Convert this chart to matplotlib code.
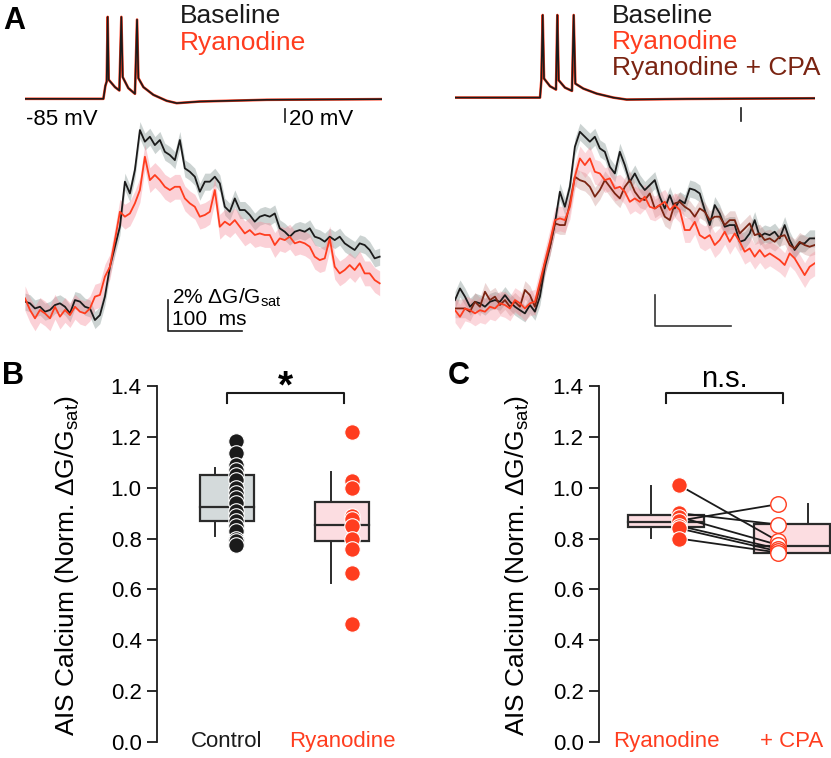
import numpy as np
import matplotlib
matplotlib.use('Agg')
import matplotlib.pyplot as plt
from matplotlib.patches import Rectangle

plt.rcParams['font.family'] = ['Liberation Sans', 'DejaVu Sans']
plt.rcParams['mathtext.default'] = 'regular'

W, H = 831, 758

# ---- data --------------------------------------------------------------
dt = 6.75  # ms per sample of the calcium traces

# voltage traces (ms, mV)
v_left_t = [0, 105.9, 108.6, 110.4, 111.7, 113.1, 121.6, 127.5, 130.2, 132.0, 139.6,
            148.6, 151.4, 153.2, 160.0, 173.4, 191.4, 205.0, 236.5, 326.6, 482.0]
v_left_mv = [-85, -85, -65.2, -58.6, 39.5, -56, -67.2, -72.3, 39.5, -52, -68.7,
             -77.4, 35.4, -53.5, -67.2, -78.9, -88, -91.6, -89.1, -86.5, -85.5]
v_right_t = [0, 114.9, 116.7, 118.5, 120.3, 128.4, 136.5, 138.3, 140.1, 148.6, 158.1,
             160.4, 162.6, 173.4, 191.4, 214.0, 232.0, 313.0, 485.6]
v_right_mv = [-85, -85, -58.6, 40.5, -56, -67.7, -72.8, 40.5, -58.6, -69.8, -74.8,
              40.5, -63.7, -71.3, -78.9, -85, -88, -87, -86]

# AIS calcium (% dG/Gsat), left panel
ca_left_base = [0.22, 0.11, -0.22, -0.11, -0.43, -0.32, 0, 0.11, -0.11, -0.54, 0.32, 0.22,
                -0.11, -0.22, -0.97, -0.65, 0.54, 2.47, 3.76, 5.05, 7.96, 7.20, 8.71, 11.29,
                10.54, 10.86, 10.32, 10.65, 9.89, 9.68, 9.35, 10.65, 8.82, 8.60, 8.28, 7.31,
                7.96, 7.96, 8.28, 7.85, 6.34, 6.02, 6.88, 6.13, 6.13, 5.81, 5.38, 5.70,
                5.81, 5.70, 5.91, 4.95, 4.73, 4.41, 4.73, 4.84, 4.73, 4.95, 4.41, 4.30,
                4.09, 4.41, 4.19, 4.41, 3.98, 3.76, 3.55, 3.98, 3.87, 3.55, 3.01, 3.12]
ca_left_rya = [0.43, -0.32, -0.86, -0.32, -0.54, -0.86, -0.11, -0.75, -0.32, -0.65, -0.11, -0.43,
               -0.54, -0.22, 0.54, 0.65, 1.83, 2.47, 4.19, 6.02, 5.70, 5.91, 6.56, 7.42,
               9.57, 8.06, 8.39, 8.06, 7.63, 7.42, 7.63, 7.63, 6.88, 6.56, 6.34, 5.70,
               5.81, 6.02, 7.42, 5.05, 5.38, 5.16, 5.48, 5.05, 4.62, 4.84, 4.52, 4.62,
               4.52, 4.52, 3.87, 4.30, 4.19, 4.41, 3.98, 4.09, 3.98, 3.76, 3.12, 2.90,
               3.01, 4.30, 2.47, 2.04, 2.26, 2.58, 2.26, 2.69, 2.04, 2.04, 1.61, 1.40]

# AIS calcium (% dG/Gsat), right panel
ca_right_base = [0.43, 1.18, 0.65, 0, 0.32, 0.22, 0, 0.32, 0.43, 0.32, 0.75, 0.32, 0,
                 -0.22, -0.43, 0.11, -0.32, 0.65, 2.58, 3.87, 5.38, 7.42, 6.45, 7.74,
                 10.32, 11.29, 10.97, 10.65, 10.97, 10.22, 10.00, 9.03, 8.60, 10.00, 9.14,
                 8.06, 8.60, 7.96, 7.53, 7.85, 8.17, 7.10, 6.34, 7.20, 6.34, 6.88, 6.67,
                 7.63, 7.53, 7.31, 6.24, 5.27, 6.56, 6.02, 5.16, 5.27, 5.27, 4.19, 4.30,
                 4.73, 5.59, 4.52, 4.73, 4.62, 4.84, 4.41, 5.27, 4.30, 3.66, 4.09, 4.09,
                 4.41, 4.41]
ca_right_rya = [-0.22, -0.65, -0.11, -0.22, -0.43, -0.22, -0.32, 0, -0.11, 0.22, 0.11, -0.11,
                0.43, 0.22, -0.11, 0.22, 0.32, 1.61, 2.90, 4.19, 5.59, 5.70, 5.59, 6.45,
                8.39, 9.57, 9.14, 9.57, 8.71, 8.60, 8.17, 8.28, 7.63, 7.74, 7.42, 6.77,
                6.99, 6.77, 7.10, 6.45, 6.34, 6.56, 6.77, 6.24, 6.56, 6.24, 4.95, 4.95,
                5.48, 4.62, 4.41, 4.62, 3.98, 4.30, 4.84, 4.19, 4.73, 4.19, 3.55, 3.76,
                3.23, 3.66, 3.23, 3.44, 3.23, 3.01, 2.69, 3.44, 3.12, 2.58, 2.04, 2.58, 2.80]
ca_right_cpa = [-0.11, -0.11, -0.11, -0.32, 0.32, 0, 0.97, 0.43, 0.65, 0.11, 0.43, 0,
                0.32, 0, 1.08, 0.75, 0, 1.29, 2.80, 3.87, 5.38, 5.27, 5.27, 6.67,
                8.39, 8.17, 8.06, 7.74, 7.10, 7.53, 8.17, 7.74, 7.31, 6.99, 7.74, 8.17,
                7.42, 6.99, 6.88, 7.31, 6.34, 6.56, 5.81, 5.59, 6.67, 6.77, 6.45, 6.24,
                5.81, 6.34, 6.13, 5.59, 5.81, 5.81, 5.27, 5.59, 5.59, 4.73, 5.05, 5.38,
                4.62, 4.73, 4.30, 4.41, 4.19, 4.52, 4.62, 3.98, 3.76, 4.19, 3.98, 3.87, 3.98]
sem_base, sem_rya, sem_cpa = 0.55, 0.8, 0.6

# panel B
ctrl_vals = [1.185, 1.135, 1.09, 1.07, 1.05, 1.03, 1.00, 0.98, 0.96, 0.94, 0.91, 0.89,
             0.87, 0.85, 0.83, 0.80, 0.79, 0.775]
rya_vals = [1.22, 1.025, 1.00, 0.89, 0.875, 0.85, 0.80, 0.76, 0.665, 0.465]
# box stats: q1, median, q3, whisker low, whisker high
ctrl_box = [0.87, 0.925, 1.05, 0.811, 1.079]
rya_box = [0.792, 0.853, 0.943, 0.624, 1.063]

# panel C (paired)
rya_c = [1.01, 0.90, 0.885, 0.87, 0.85, 0.84, 0.80]
cpa_c = [0.79, 0.855, 0.775, 0.935, 0.76, 0.75, 0.745]
rya_c_box = [0.844, 0.864, 0.894, 0.802, 1.007]
cpa_c_box = [0.745, 0.771, 0.856, 0.745, 0.935]

y_ticks = [0.0, 0.2, 0.4, 0.6, 0.8, 1.0, 1.2, 1.4]

# ---- style -------------------------------------------------------------
BLACK = '#1b1b1b'
RED = '#ff3d1f'
DARK = '#7a2412'
EDGE = '#2b2b2b'


def rect(x0, y0, x1, y1):
    return [x0 / W, 1 - y1 / H, (x1 - x0) / W, (y1 - y0) / H]


def ftext(x, y, s, **kw):
    fig.text(x / W, 1 - y / H, s, **kw)


fig = plt.figure(figsize=(W / 100, H / 100), dpi=100)

# ---- panel A: voltage --------------------------------------------------
axv1 = fig.add_axes(rect(25, 10, 382, 110))
axv1.plot(v_left_t, v_left_mv, color=RED, lw=1.9)
axv1.plot(v_left_t, v_left_mv, color=BLACK, lw=1.2)
axv1.plot([351, 351], [-101, -121], color=BLACK, lw=1.2, clip_on=False)
axv1.set_xlim(0, 482.4)
axv1.set_ylim(-102, 50)
axv1.axis('off')

axv2 = fig.add_axes(rect(455, 8, 815, 108))
axv2.plot(v_right_t, v_right_mv, color=RED, lw=1.9)
axv2.plot(v_right_t, v_right_mv, color=BLACK, lw=1.2)
axv2.plot([386.5, 386.5], [-101, -121], color=BLACK, lw=1.2, clip_on=False)
axv2.set_xlim(0, 486.5)
axv2.set_ylim(-100.8, 51.2)
axv2.axis('off')

# ---- panel A: calcium --------------------------------------------------
axc1 = fig.add_axes(rect(25, 120, 382, 345))
t1 = np.arange(len(ca_left_base)) * dt
b = np.array(ca_left_base)
r = np.array(ca_left_rya)
axc1.fill_between(t1, b - sem_base, b + sem_base, color='#a3b0ae', alpha=0.55, lw=0)
axc1.fill_between(t1, r - sem_rya, r + sem_rya, color='#f68d9b', alpha=0.4, lw=0)
axc1.plot(t1, b, color=BLACK, lw=1.3)
axc1.plot(t1, r, color=RED, lw=1.3)
axc1.plot([193, 193, 293], [0.32, -1.68, -1.68], color=BLACK, lw=1.2)
axc1.set_xlim(0, 482.4)
axc1.set_ylim(-2.58, 11.94)
axc1.axis('off')

axc2 = fig.add_axes(rect(455, 120, 815, 345))
t2 = np.arange(len(ca_right_base)) * dt
b2 = np.array(ca_right_base)
r2 = np.array(ca_right_rya)
c2 = np.array(ca_right_cpa)
axc2.fill_between(t2, b2 - sem_base, b2 + sem_base, color='#a3b0ae', alpha=0.55, lw=0)
axc2.fill_between(t2, c2 - sem_cpa, c2 + sem_cpa, color='#c68a88', alpha=0.35, lw=0)
axc2.fill_between(t2, r2 - sem_rya, r2 + sem_rya, color='#f68d9b', alpha=0.35, lw=0)
axc2.plot(t2, b2, color=BLACK, lw=1.3)
axc2.plot(t2, c2, color=DARK, lw=1.3)
axc2.plot(t2, r2, color=RED, lw=1.3)
axc2.plot([270, 270, 373], [0.75, -1.25, -1.25], color='#333333', lw=1.2)
axc2.set_xlim(0, 486.5)
axc2.set_ylim(-2.47, 12.05)
axc2.axis('off')

# text for panel A
ftext(3, 6, 'A', fontsize=22, fontweight='bold', va='top', ha='left')
ftext(180, 23, 'Baseline', fontsize=19, color=BLACK, va='baseline')
ftext(180, 50, 'Ryanodine', fontsize=19, color=RED, va='baseline')
ftext(612, 23, 'Baseline', fontsize=19, color=BLACK, va='baseline')
ftext(612, 49, 'Ryanodine', fontsize=19, color=RED, va='baseline')
ftext(612, 75, 'Ryanodine + CPA', fontsize=19, color=DARK, va='baseline')
ftext(26, 125, '-85 mV', fontsize=16, va='baseline')
ftext(289, 125, '20 mV', fontsize=16, va='baseline')
ftext(172, 304, '2% ΔG/G$_{sat}$', fontsize=15, va='baseline')
ftext(172, 325, '100  ms', fontsize=15, va='baseline')


# ---- panels B and C ----------------------------------------------------
def draw_box(ax, pos, stats, width, wx, fc):
    q1, med, q3, lo, hi = stats
    ax.add_patch(Rectangle((pos - width / 2, q1), width, q3 - q1, fc=fc, ec=EDGE,
                           lw=1.6, zorder=2, clip_on=False))
    ax.plot([pos - width / 2, pos + width / 2], [med, med], color=EDGE, lw=1.6,
            zorder=3, clip_on=False)
    ax.plot([wx, wx], [q3, hi], color=EDGE, lw=1.4, zorder=1)
    ax.plot([wx, wx], [lo, q1], color=EDGE, lw=1.4, zorder=1)


def style_axis(ax, xlim):
    ax.set_xlim(*xlim)
    ax.set_ylim(-0.0315, 1.502)
    for s in ['top', 'right', 'bottom']:
        ax.spines[s].set_visible(False)
    ax.spines['left'].set_bounds(0, 1.4)
    ax.spines['left'].set_linewidth(1.3)
    ax.spines['left'].set_color(BLACK)
    ax.set_xticks([])
    ax.set_yticks(y_ticks)
    ax.set_yticklabels(['%.1f' % v for v in y_ticks])
    ax.tick_params(axis='y', length=7, width=1.3, labelsize=16, pad=4, color=BLACK)
    ax.patch.set_alpha(0)


axB = fig.add_axes(rect(157, 360, 400, 750))
style_axis(axB, (0.391, 2.504))
draw_box(axB, 1, ctrl_box, 0.47, 0.896, '#d4dadb')
draw_box(axB, 2, rya_box, 0.47, 1.904, '#fcdde1')
axB.scatter(np.full(len(ctrl_vals), 1.078), ctrl_vals, s=125, c=BLACK,
            edgecolors='white', linewidths=0.8, zorder=4)
axB.scatter(np.full(len(rya_vals), 2.087), rya_vals, s=125, c=RED,
            edgecolors='white', linewidths=0.8, zorder=4)
axB.plot([1, 1, 2.017, 2.017], [1.333, 1.372, 1.372, 1.333], color=BLACK, lw=1.5,
         clip_on=False)
axB.text(1.504, 1.355, '*', fontsize=28, fontweight='bold', ha='center', va='baseline')
axB.text(1, 0, 'Control', fontsize=16, color=BLACK, ha='center', va='center')
axB.text(2, 0, 'Ryanodine', fontsize=16, color=RED, ha='center', va='center')

axC = fig.add_axes(rect(599, 360, 831, 750))
style_axis(axC, (0.468, 2.31))
draw_box(axC, 1, rya_c_box, 0.6, 0.881, '#fcdde1')
draw_box(axC, 2, cpa_c_box, 0.6, 2.127, '#fcdde1')
for a, c in zip(rya_c, cpa_c):
    axC.plot([1.103, 1.889], [a, c], color=BLACK, lw=1.3, zorder=3)
axC.scatter(np.full(len(rya_c), 1.103), rya_c, s=125, c=RED,
            edgecolors='white', linewidths=0.8, zorder=4)
axC.scatter(np.full(len(cpa_c), 1.889), cpa_c, s=125, c='white',
            edgecolors=RED, linewidths=1.0, zorder=4)
axC.plot([1, 1, 1.929, 1.929], [1.333, 1.372, 1.372, 1.333], color=BLACK, lw=1.5,
         clip_on=False)
axC.text(1.46, 1.395, 'n.s.', fontsize=21, ha='center', va='baseline')
axC.text(1, 0, 'Ryanodine', fontsize=16, color=RED, ha='center', va='center')
axC.text(2, 0, '+ CPA', fontsize=16, color=RED, ha='center', va='center')

ylab = 'AIS Calcium (Norm. ΔG/G$_{sat}$)'
ftext(67, 565, ylab, fontsize=19, rotation=90, ha='center', va='center')
ftext(517, 565, ylab, fontsize=19, rotation=90, ha='center', va='center')
ftext(2, 361, 'B', fontsize=22, fontweight='bold', va='top', ha='left')
ftext(448, 361, 'C', fontsize=22, fontweight='bold', va='top', ha='left')

fig.savefig('out.png', dpi=100)
